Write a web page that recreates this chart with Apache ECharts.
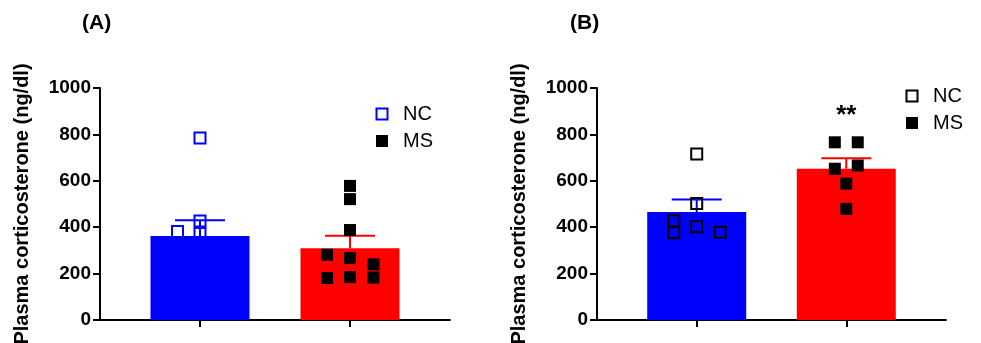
<!DOCTYPE html>
<html>
<head>
<meta charset="utf-8">
<script src="https://cdn.jsdelivr.net/npm/echarts@6/dist/echarts.min.js"></script>
<style>html,body{margin:0;padding:0;background:#fff}#c{width:981px;height:343px}</style>
</head>
<body>
<div id="c"></div>
<script>
// ---- data ----
const groups = ['NC', 'MS'];
const yTicks = [0, 200, 400, 600, 800, 1000];
const meanA = [362, 309];
const semA = [68, 54];
const meanB = [465, 652];
const semB = [54, 45];
const sigA = ['', ''];
const sigB = ['', '**'];
const ncA = [785, 427, 373, 381];
const ncAJitter = [0, 0, 0, -0.45];
const msA = [281, 181, 578, 521, 388, 267, 185, 240, 183];
const msAJitter = [-0.46, -0.46, 0, 0, 0, 0, 0, 0.47, 0.47];
const ncB = [715, 502, 402, 428, 376, 378];
const ncBJitter = [0, 0, 0, -0.46, -0.46, 0.47];
const msB = [766, 652, 766, 666, 588, 479];
const msBJitter = [-0.23, -0.23, 0.23, 0.23, 0, 0];

// ---- layout / style ----
const FONT = "'Liberation Sans', Arial, sans-serif";
const BLUE = '#0000ff', RED = '#ff0000';
const groupPos = [2, 5];
const chart = echarts.init(document.getElementById('c'), null, {renderer: 'canvas'});

function xAxisCfg(i) {
  return {
    type: 'value', gridIndex: i, min: 0, max: 7,
    axisLine: {show: true, lineStyle: {color: '#000', width: 2}},
    axisTick: {show: true, customValues: groupPos, length: 7, lineStyle: {color: '#000', width: 2}},
    axisLabel: {show: false}, splitLine: {show: false}
  };
}
function yAxisCfg(i) {
  return {
    type: 'value', gridIndex: i, min: yTicks[0], max: yTicks[yTicks.length - 1], interval: yTicks[1] - yTicks[0],
    name: 'Plasma corticosterone (ng/dl)', nameLocation: 'middle', nameGap: 68,
    nameTextStyle: {fontFamily: FONT, fontWeight: 'bold', fontSize: 20, color: '#000'},
    axisLine: {show: true, lineStyle: {color: '#000', width: 2}},
    axisTick: {show: true, length: 7, lineStyle: {color: '#000', width: 2}},
    axisLabel: {fontFamily: FONT, fontWeight: 'bold', fontSize: 19, color: '#000', margin: 9,
      formatter: v => String(v)},
    splitLine: {show: false}
  };
}
function barSeries(i, means) {
  return {
    type: 'bar', xAxisIndex: i, yAxisIndex: i, barWidth: 99, z: 1,
    data: means.map((m, k) => ({value: [groupPos[k], m], itemStyle: {color: k === 0 ? BLUE : RED}})),
    silent: true
  };
}
function errSeries(i, means, sems, sig) {
  return {
    type: 'custom', xAxisIndex: i, yAxisIndex: i, z: 2, silent: true,
    data: means.map((m, k) => [groupPos[k], m, sems[k], k]),
    renderItem: function (params, api) {
      const x = api.value(0), m = api.value(1), s = api.value(2), k = api.value(3);
      const p0 = api.coord([x, m]);
      const p1 = api.coord([x, m + s]);
      const col = k === 0 ? BLUE : RED;
      const children = [
        {type: 'line', shape: {x1: p0[0], y1: p0[1], x2: p1[0], y2: p1[1]}, style: {stroke: col, lineWidth: 2}},
        {type: 'line', shape: {x1: p1[0] - 25, y1: p1[1], x2: p1[0] + 25, y2: p1[1]}, style: {stroke: col, lineWidth: 2}}
      ];
      if (sig[k]) {
        children.push({type: 'text', x: p1[0], y: p1[1] - 42,
          style: {text: sig[k], fill: '#000', font: 'bold 26px ' + FONT, align: 'center', verticalAlign: 'middle'}});
      }
      return {type: 'group', children: children};
    }
  };
}
function ptsSeries(i, name, vals, jit, k, hollow, edge) {
  return {
    type: 'scatter', name: name, xAxisIndex: i, yAxisIndex: i, z: 3, silent: true,
    symbol: 'rect', symbolSize: hollow ? 11 : 12,
    itemStyle: hollow ? {color: 'rgba(0,0,0,0)', borderColor: edge, borderWidth: 2, opacity: 1}
                      : {color: '#000', opacity: 1},
    data: vals.map((v, j) => [groupPos[k] + jit[j], v])
  };
}
function legend(x, y, edge) {
  return [
    {type: 'rect', shape: {x: x - 5.5, y: y - 5.5, width: 11, height: 11}, style: {fill: 'none', stroke: edge, lineWidth: 2}},
    {type: 'text', x: x + 21, y: y, style: {text: groups[0], font: '20px ' + FONT, fill: '#000', verticalAlign: 'middle'}},
    {type: 'rect', shape: {x: x - 6, y: y + 21, width: 12, height: 12}, style: {fill: '#000'}},
    {type: 'text', x: x + 21, y: y + 27, style: {text: groups[1], font: '20px ' + FONT, fill: '#000', verticalAlign: 'middle'}}
  ];
}

chart.setOption({
  animation: false,
  backgroundColor: '#fff',
  grid: [
    {left: 100, top: 88, width: 350, height: 232, containLabel: false, outerBoundsMode: 'none'},
    {left: 597, top: 88, width: 349, height: 232, containLabel: false, outerBoundsMode: 'none'}
  ],
  xAxis: [xAxisCfg(0), xAxisCfg(1)],
  yAxis: [yAxisCfg(0), yAxisCfg(1)],
  series: [
    barSeries(0, meanA), errSeries(0, meanA, semA, sigA),
    ptsSeries(0, groups[0], ncA, ncAJitter, 0, true, BLUE),
    ptsSeries(0, groups[1], msA, msAJitter, 1, false),
    barSeries(1, meanB), errSeries(1, meanB, semB, sigB),
    ptsSeries(1, groups[0], ncB, ncBJitter, 0, true, '#000'),
    ptsSeries(1, groups[1], msB, msBJitter, 1, false)
  ],
  graphic: [
    {type: 'text', left: 82, top: 13, style: {text: '(A)', font: 'bold 21px ' + FONT, fill: '#000'}},
    {type: 'text', left: 570, top: 13, style: {text: '(B)', font: 'bold 21px ' + FONT, fill: '#000'}},
    ...legend(382, 114, BLUE),
    ...legend(912, 96, '#000')
  ]
});
</script>
</body>
</html>
